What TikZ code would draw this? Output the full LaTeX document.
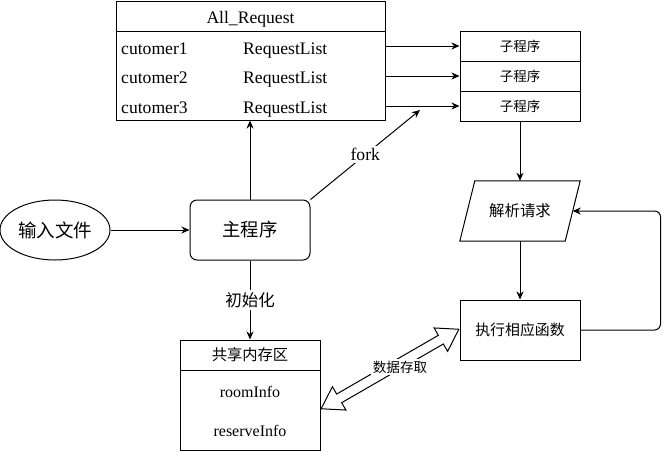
\documentclass[tikz,border=0pt]{standalone}
\usepackage{fontspec}
\setmainfont{Liberation Serif}
\newfontfamily\cjk{Noto Sans CJK SC}
\usetikzlibrary{shapes.geometric,shapes.arrows,positioning,arrows.meta,calc}
\tikzset{x=1pt,y=-1pt,
line/.style={draw=black,line width=1pt},
arr/.style={line,-{Stealth[length=8pt,width=7pt,inset=2.5pt]}},
box/.style={rectangle,line,inner sep=0pt,minimum width=120pt,minimum height=60pt},
rbox/.style={box,rounded corners=7pt},
blank/.style={rectangle,inner sep=0pt,minimum width=105pt,minimum height=60pt},
subbox/.style={box,minimum height=30pt},
oval/.style={ellipse,line,inner sep=0pt,minimum width=110pt,minimum height=60pt},
lat/.style={inner sep=0pt,font=\fontsize{17.6}{20}\selectfont},
latsmall/.style={inner sep=0pt,font=\fontsize{16}{18}\selectfont},
zh/.style={font=\cjk\fontsize{#1}{#1}\selectfont},
lbl/.style={fill=white,inner sep=2pt},
flexarrow/.style={double arrow,line,fill=white,inner xsep=0pt,inner ysep=4.5pt,
  text height=0pt,text depth=0pt,minimum width=26pt,
  double arrow head extend=8.5pt,double arrow tip angle=66,minimum height=159pt}
}
\begin{document}
\begin{tikzpicture}
  \useasboundingbox (0,0) rectangle (669,451);
  % request table
  \node (req) [box,minimum width=269pt,minimum height=119pt] at (250.5,60.5) {};
  \draw [line] (req.west |- 0,31) -- (req.east |- 0,31);
  \node (reqhead) [lat,anchor=base] at (250.5,23.5) {All\_Request};
  \foreach \i/\y/\b in {1/46/54,2/76/83.5,3/106/113}{
    \node (cust\i) [lat,anchor=base west] at (121,\b) {cutomer\i};
    \node (list\i) [lat,anchor=base west] at (243,\b) {RequestList};
    \node (sub\i) [subbox,zh=13.5] at (520,\y) {子程序};
    \draw [arr] (req.east |- sub\i) -- (sub\i.west);
  }

  % worker loop
  \node (parse) [blank,zh=15.4] at (520,211) {解析请求};
  \draw [line] ($(parse.north west)+(7.5,0)$) -- ($(parse.north east)+(7.5,0)$)
    -- ($(parse.south east)+(-7.5,0)$) -- ($(parse.south west)+(-7.5,0)$) -- cycle;
  \node (exec) [box,zh=14.9] at (520,330) {执行相应函数};
  \draw [arr] (sub3.south) -- (parse.north);
  \draw [arr] (parse.south) -- (exec.north);
  \draw [arr,rounded corners=6pt] (exec.east) -- ++(80,0) |- (parse.east);

  % main program
  \node (input) [oval,zh=18.5] at (55,230) {输入文件};
  \node (main) [rbox,zh=18.3] at (250,230) {主程序};
  \draw [arr] (input) -- (main);
  \draw [arr] (main.north) -- (main.north |- req.south);
  \coordinate (forkend) at (420,110);
  \draw [arr] (main.north east) -- (forkend) node (forklbl) [lat,lbl,pos=0.5,fill=white] {fork};

  % shared memory
  \node (shm) [box,minimum width=140pt,minimum height=110pt] at (250,395) {};
  \draw [line] (shm.west |- 0,370) -- (shm.east |- 0,370);
  \node (shmhead) [zh=15.3] at (250,355) {共享内存区};
  \node (room) [latsmall,anchor=base] at (250,397) {roomInfo};
  \node (reserve) [latsmall,anchor=base] at (250,436) {reserveInfo};
  \draw [arr] (main.south) -- (shm.north) node (initlbl) [lbl,midway,zh=16.5] {初始化};

  \path (shm.east) ++(1,14) coordinate (acc1);
  \path (exec.west) ++(-1,-1) coordinate (acc2);
  \node (access) [flexarrow,rotate=30] at ($(acc1)!0.5!(acc2)$) {};
  \node (acclbl) [lbl,zh=13.6] at (400,367) {数据存取};
\end{tikzpicture}
\end{document}
